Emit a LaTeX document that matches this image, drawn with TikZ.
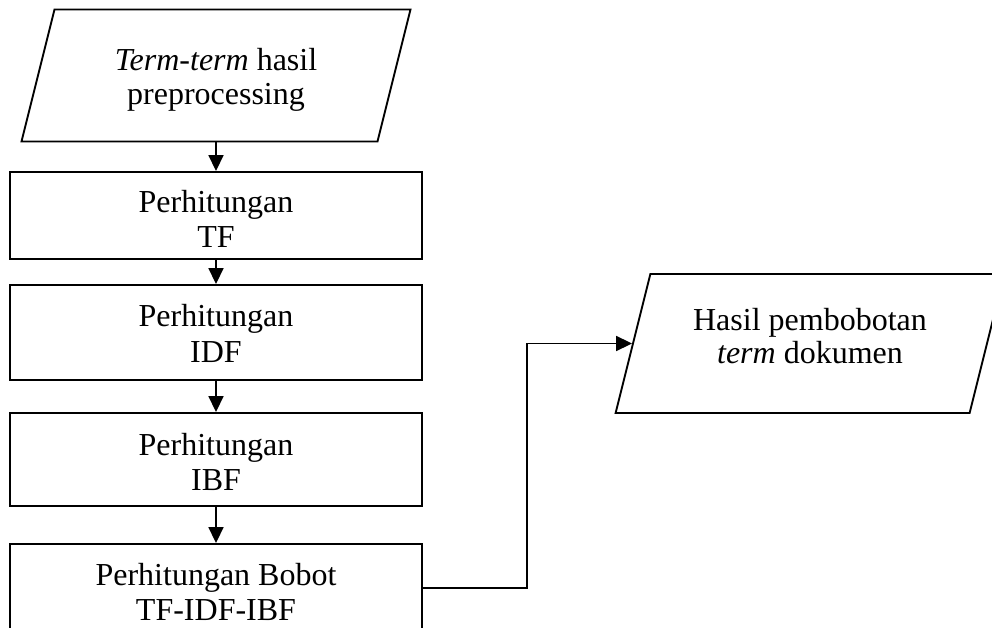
\documentclass[tikz,border=0pt]{standalone}
\usepackage{fontspec}
\setmainfont{Liberation Serif}
\usetikzlibrary{arrows.meta}
\begin{document}
\begin{tikzpicture}[x=1pt,y=1pt,
  flow/.style={draw, line width=1.9pt, inner sep=0pt},
  procbox/.style={flow, rectangle, minimum width=412pt},
  iobox/.style={flow, rectangle, xslant=0.25},
  txt/.style={align=center, inner sep=0pt, font=\fontsize{32}{35}\selectfont},
  arrow/.style={line width=1.8pt, -{Triangle[length=16pt,width=15pt]}}]
\clip (0,0) rectangle (992,627);

% input data
\node[iobox, minimum width=356pt, minimum height=132pt] (input) at (216,551.5) {};
\node[txt, font=\fontsize{32}{34}\selectfont] (input-text) at (216,546.5)
  {\textit{Term-term} hasil\strut\\preprocessing\strut};

% processing steps
\node[procbox, minimum height=87pt] (tf) at (216,411.5) {};
\node[txt] (tf-text) at (216,403.5) {Perhitungan\strut\\TF\strut};

\node[procbox, minimum height=95pt] (idf) at (216,294.5) {};
\node[txt] (idf-text) at (216,289.5) {Perhitungan\strut\\IDF\strut};

\node[procbox, minimum height=93pt] (ibf) at (216,167.5) {};
\node[txt] (ibf-text) at (216,161.5) {Perhitungan\strut\\IBF\strut};

\node[procbox, minimum height=88pt] (bobot) at (216,39) {};
\node[txt] (bobot-text) at (216,31.5) {Perhitungan Bobot\strut\\TF-IDF-IBF\strut};

% output data
\node[iobox, minimum width=354pt, minimum height=139pt] (output) at (810,283.5) {};
\node[txt, font=\fontsize{32}{31}\selectfont] (output-text) at (810,286.5)
  {Hasil pembobotan\strut\\\textit{term} dokumen\strut};

% connectors
\coordinate (bend) at (527,0);
\draw[arrow] (tf.north |- input.south) -- (tf.north);
\draw[arrow] (tf.south) -- (idf.north);
\draw[arrow] (idf.south) -- (ibf.north);
\draw[arrow] (ibf.south) -- (bobot.north);
\draw[arrow] (bobot.east) -- (bobot.east -| bend) |- (output.west);
\end{tikzpicture}
\end{document}
